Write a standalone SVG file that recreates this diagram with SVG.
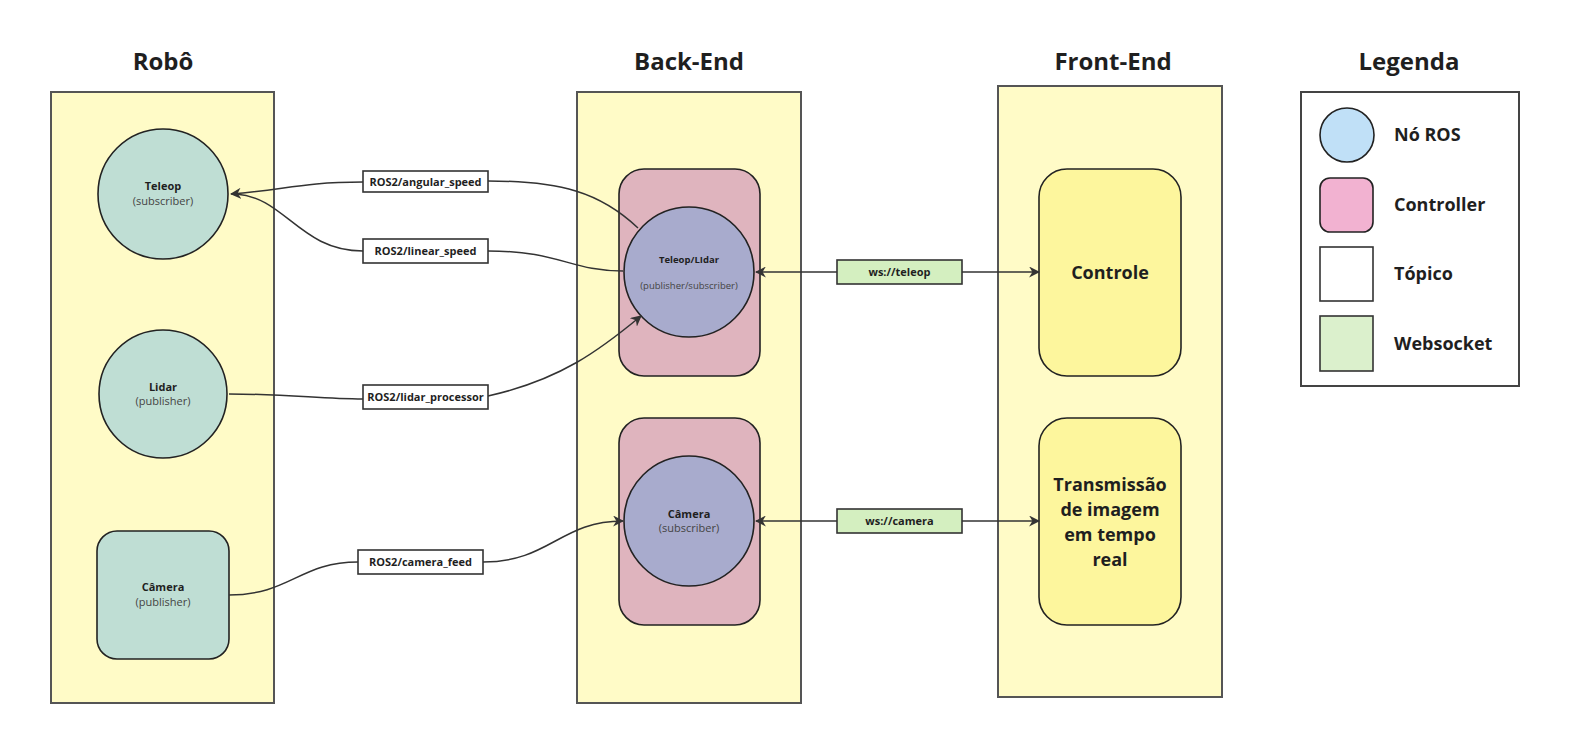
<svg xmlns="http://www.w3.org/2000/svg" width="1571" height="755" viewBox="0 0 1571 755">
<style>
text{font-family:"Open Sans","Noto Sans","Liberation Sans",sans-serif;fill:#1f1f1f}
.title{font-size:24px;font-weight:bold;text-anchor:middle}
.cont{fill:#fffbc7;stroke:#555;stroke-width:2}
.node{fill:#bfded4;stroke:#222;stroke-width:1.6}
.ctrl{fill:#dfb4be;stroke:#222;stroke-width:1.6}
.ros{fill:#a8abcd;stroke:#222;stroke-width:1.6}
.fe{fill:#fdf69d;stroke:#222;stroke-width:1.6}
.topic{fill:#fff;stroke:#333;stroke-width:1.6}
.ws{fill:#d4efc0;stroke:#333;stroke-width:1.6}
.nl{font-size:11px;font-weight:bold;text-anchor:middle}
.ns{font-size:11px;text-anchor:middle;fill:#444}
.tl{font-size:11px;font-weight:bold;text-anchor:middle}
.big{font-size:18px;font-weight:bold;text-anchor:middle}
.leg{font-size:18px;font-weight:bold}
.conn path{fill:none;stroke:#333;stroke-width:1.5}
</style>
<defs>
<marker id="arr" viewBox="0 0 10 10" refX="9" refY="5" markerWidth="11" markerHeight="11" orient="auto-start-reverse" markerUnits="userSpaceOnUse">
<path d="M0,0 L10,5 L0,10 L3,5 Z" fill="#333"/>
</marker>
</defs>
<rect width="1571" height="755" fill="#fff"/>

<g id="robo">
<rect class="cont" x="51" y="92" width="223" height="611"/>
<text class="title" x="163" y="70">Robô</text>
</g>
<g id="backend">
<rect class="cont" x="577" y="92" width="224" height="611"/>
<text class="title" x="689" y="70">Back-End</text>
</g>
<g id="frontend">
<rect class="cont" x="998" y="86" width="224" height="611"/>
<text class="title" x="1113" y="70">Front-End</text>
</g>

<g id="teleop">
<circle class="node" cx="163" cy="194" r="65"/>
<text class="nl" x="163" y="190">Teleop</text>
<text class="ns" x="163" y="205">(subscriber)</text>
</g>
<g id="lidar">
<circle class="node" cx="163" cy="394" r="64"/>
<text class="nl" x="163" y="391">Lidar</text>
<text class="ns" x="163" y="405">(publisher)</text>
</g>
<g id="camera-robo">
<rect class="node" x="97" y="531" width="132" height="128" rx="20"/>
<text class="nl" x="163" y="591">Câmera</text>
<text class="ns" x="163" y="606">(publisher)</text>
</g>

<g id="ctrl-teleop">
<rect class="ctrl" x="619" y="169" width="141" height="207" rx="25"/>
</g>
<g id="ros-teleop-lidar">
<circle class="ros" cx="689" cy="272" r="65"/>
<text class="nl" x="689" y="263" style="font-size:9.5px">Teleop/LIdar</text>
<text class="ns" x="689" y="289" style="font-size:9.5px">(publisher/subscriber)</text>
</g>
<g id="ctrl-camera">
<rect class="ctrl" x="619" y="418" width="141" height="207" rx="25"/>
</g>
<g id="ros-camera">
<circle class="ros" cx="689" cy="521" r="65"/>
<text class="nl" x="689" y="518">Câmera</text>
<text class="ns" x="689" y="532">(subscriber)</text>
</g>

<g id="controle">
<rect class="fe" x="1039" y="169" width="142" height="207" rx="28"/>
<text class="big" x="1110" y="279">Controle</text>
</g>
<g id="transmissao">
<rect class="fe" x="1039" y="418" width="142" height="207" rx="28"/>
<text class="big" x="1110" y="491">Transmissão</text>
<text class="big" x="1110" y="516">de imagem</text>
<text class="big" x="1110" y="541">em tempo</text>
<text class="big" x="1110" y="566">real</text>
</g>

<g id="conn" class="conn">
<path d="M363,182 C300,182 285,190 231,194" marker-end="url(#arr)"/>
<path d="M363,251 C300,251 285,197 236,194"/>
<path d="M488,181 C560,181 600,192 638,228"/>
<path d="M488,251 C560,251 570,271 623,271"/>
<path d="M229,394 C290,394 320,399 363,399"/>
<path d="M488,396 C560,380 600,350 641,316" marker-end="url(#arr)"/>
<path d="M229,595 C290,595 300,562 358,562"/>
<path d="M483,562 C550,562 560,521 623,521" marker-end="url(#arr)"/>
<path d="M837,272 L756,272" marker-end="url(#arr)"/>
<path d="M962,272 L1039,272" marker-end="url(#arr)"/>
<path d="M837,521 L756,521" marker-end="url(#arr)"/>
<path d="M962,521 L1039,521" marker-end="url(#arr)"/>
</g>

<g id="topic-angular">
<rect class="topic" x="363" y="171" width="125" height="21"/>
<text class="tl" x="425.5" y="185.5">ROS2/angular_speed</text>
</g>
<g id="topic-linear">
<rect class="topic" x="363" y="239" width="125" height="24"/>
<text class="tl" x="425.5" y="255">ROS2/linear_speed</text>
</g>
<g id="topic-lidar">
<rect class="topic" x="363" y="385" width="125" height="24"/>
<text class="tl" x="425.5" y="401">ROS2/lidar_processor</text>
</g>
<g id="topic-camera">
<rect class="topic" x="358" y="550" width="125" height="24"/>
<text class="tl" x="420.5" y="566">ROS2/camera_feed</text>
</g>
<g id="ws-teleop">
<rect class="ws" x="837" y="260" width="125" height="24"/>
<text class="tl" x="899.5" y="276">ws://teleop</text>
</g>
<g id="ws-camera">
<rect class="ws" x="837" y="509" width="125" height="24"/>
<text class="tl" x="899.5" y="525">ws://camera</text>
</g>

<g id="legenda">
<text class="title" x="1409" y="70">Legenda</text>
<rect x="1301" y="92" width="218" height="294" fill="#fff" stroke="#444" stroke-width="2"/>
<circle cx="1347" cy="135" r="27" fill="#c0e0f7" stroke="#222" stroke-width="1.6"/>
<rect x="1320" y="178" width="53" height="54" rx="10" fill="#f2b2d1" stroke="#222" stroke-width="1.6"/>
<rect x="1320" y="247" width="53" height="54" fill="#fff" stroke="#333" stroke-width="1.6"/>
<rect x="1320" y="316" width="53" height="55" fill="#dbf0cc" stroke="#333" stroke-width="1.6"/>
<text class="leg" x="1394" y="141">Nó ROS</text>
<text class="leg" x="1394" y="211">Controller</text>
<text class="leg" x="1394" y="280">Tópico</text>
<text class="leg" x="1394" y="350">Websocket</text>
</g>
</svg>
